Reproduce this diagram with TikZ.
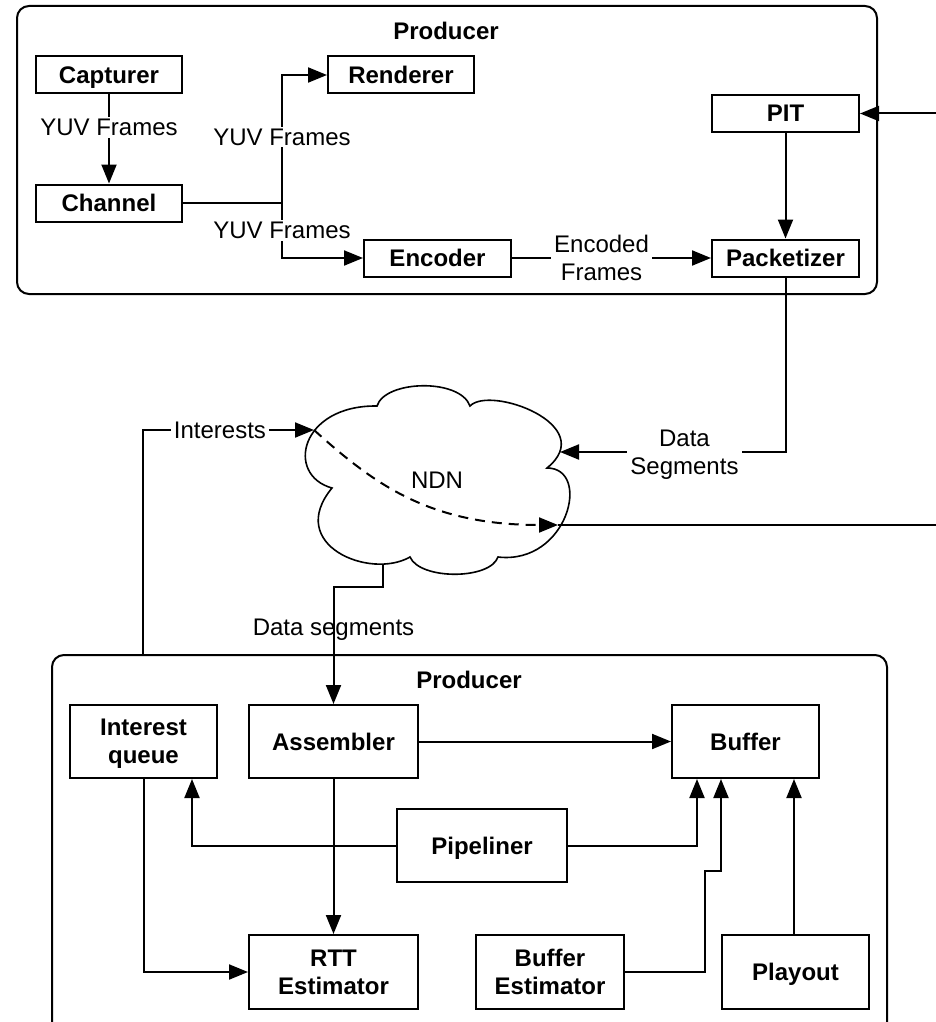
\documentclass[tikz,border=0pt]{standalone}
\usepackage{fontspec}
\setmainfont{Liberation Sans}
\usetikzlibrary{arrows.meta}
\begin{document}
\begin{tikzpicture}[x=1pt,y=-1pt,
  every node/.style={font=\fontsize{24}{28}\selectfont},
  blk/.style={draw, line width=2pt, inner sep=0pt, align=center, text depth=0pt,
    font=\fontsize{24}{28}\selectfont\bfseries},
  sbox/.style={blk, minimum width=146pt, minimum height=37pt},
  dbox/.style={blk, minimum height=73pt},
  conn/.style={line width=2pt},
  arr/.style={conn, -{Triangle[length=19pt,width=15pt]}},
  lbl/.style={fill=white, inner xsep=3pt, inner ysep=2pt, align=center},
  frame/.style={line width=2pt, rounded corners=12pt},
  title/.style={font=\fontsize{24}{28}\selectfont\bfseries}]

\useasboundingbox (0,0) rectangle (936,1022);
\clip (0,0) rectangle (936,1022);

% ---------------- producer side ----------------
\draw[frame] (17,6) rectangle (877,294);
\node[title] (ptitle) at (446,31) {Producer};

\node[sbox] (capt) at (109,75) {Capturer};
\node[sbox] (chan) at (109,203) {Channel};
\node[sbox] (rend) at (401,75) {Renderer};
\node[sbox, minimum width=147pt] (enc) at (437.5,258) {Encoder};
\node[sbox, minimum width=147pt] (pit) at (785.5,113.5) {PIT};
\node[sbox, minimum width=147pt] (pack) at (785.5,258) {Packetizer};

\coordinate (j1) at (282,203);
\coordinate (rin) at (936,113.5);

\draw[arr] (capt) -- node[lbl, pos=0.37] {YUV Frames} (chan);
\draw[conn] (chan.east) -- (j1);
\draw[arr] (j1) |- node[lbl, pos=0.258] {YUV Frames} (rend.west);
\draw[arr] (j1) |- node[lbl, pos=0.25] {YUV Frames} (enc.west);
\draw[arr] (enc) -- node[lbl, pos=0.45] {Encoded\\Frames} (pack);
\draw[arr] (pit) -- (pack);
\draw[arr] (rin) -- (pit.east);

% ---------------- network cloud ----------------
\draw[line width=1.6pt, fill=white]
  (332,488) .. controls (285,475) and (300,405) .. (377,406)
  .. controls (385,380) and (460,378) .. (470,406)
  .. controls (490,385) and (600,425) .. (547,468)
  .. controls (592,468) and (568,565) .. (498,557)
  .. controls (490,580) and (420,580) .. (410,557)
  .. controls (370,580) and (285,545) .. (332,488) -- cycle;
\node (ndn) at (437,480) {NDN};

\coordinate (cIn) at (314,430);
\coordinate (cOut) at (558,525);
\coordinate (cDS) at (560,452);
\coordinate (cBot) at (383,564);
\coordinate (rout) at (936,525);
\coordinate (ib) at (143,655);
\coordinate (dsBend) at (383,587);

\draw[arr] (pack.south) |- node[lbl, pos=0.724, text depth=0pt] {Data\\Segments} (cDS);
\draw[arr] (ib) |- node[lbl, pos=0.725] {Interests} (cIn);
\draw[arr, dash pattern=on 10pt off 7pt]
  (cIn) .. controls (375,485) and (430,525) .. (cOut);
\draw[conn] (cOut) -- (rout);

% ---------------- consumer side ----------------
\draw[frame] (52,655) rectangle (887,1034);
\node[title] (ctitle) at (469,680) {Producer};

\node[dbox, minimum width=147pt] (iq) at (143.5,741.5) {Interest\\queue};
\node[dbox, minimum width=169pt] (asm) at (333.5,741.5) {Assembler};
\node[dbox, minimum width=147pt] (buf) at (745.5,741.5) {Buffer};
\node[dbox, minimum width=170pt] (pipe) at (482,845.5) {Pipeliner};
\node[dbox, minimum width=169pt, minimum height=74pt] (rtt) at (333.5,972) {RTT\\Estimator};
\node[dbox, minimum width=148pt, minimum height=74pt] (best) at (550,972) {Buffer\\Estimator};
\node[dbox, minimum width=147pt, minimum height=74pt] (play) at (795.5,972) {Playout};

\coordinate (be1) at (705,871);

\draw[arr] (cBot) -- (dsBend) -| node[pos=0.67, text depth=0pt] {Data segments} (asm.north);
\draw[arr] (asm) -- (buf);
\draw[arr] (asm) -- (rtt);
\draw[arr] (iq.south) |- (rtt.west);
\draw[arr] (pipe.west) -| ([xshift=48.5pt]iq.south);
\draw[arr] (pipe.east) -| ([xshift=-48.5pt]buf.south);
\draw[arr] (best.east) -| (be1) -| ([xshift=-24.5pt]buf.south);
\draw[arr] ([xshift=-1.5pt]play.north) -- ([xshift=48.5pt]buf.south);
\end{tikzpicture}
\end{document}
